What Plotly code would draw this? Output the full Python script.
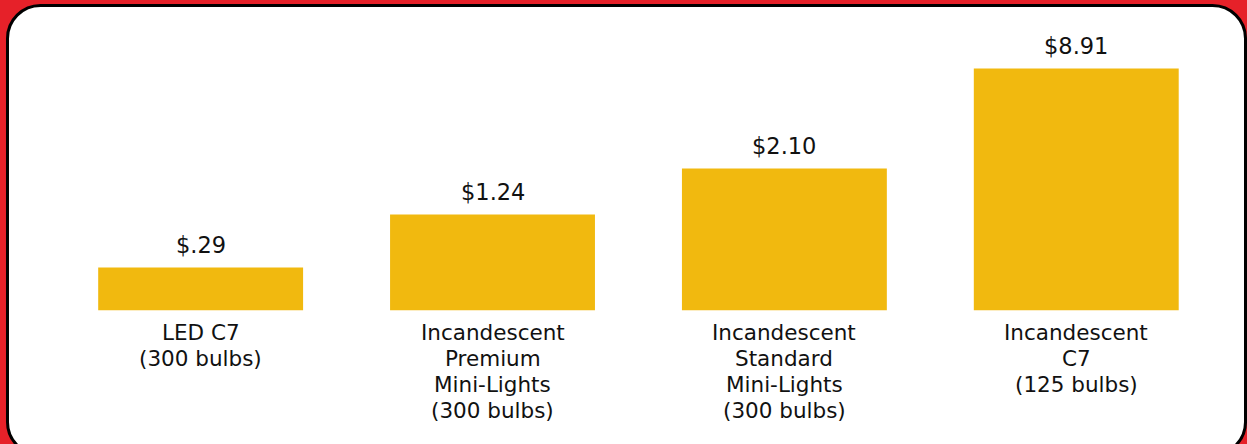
import plotly.graph_objects as go

# ---- data ----
categories = [
    "LED C7<br>(300 bulbs)",
    "Incandescent<br>Premium<br>Mini-Lights<br>(300 bulbs)",
    "Incandescent<br>Standard<br>Mini-Lights<br>(300 bulbs)",
    "Incandescent<br>C7<br>(125 bulbs)",
]
cost_values = [0.29, 1.24, 2.10, 8.91]
cost_labels = ["$.29", "$1.24", "$2.10", "$8.91"]
# bar heights as drawn in the picture (the graphic is not to scale)
bar_heights = [43, 96, 142, 242]

W, H = 1247, 444
FONT = "DejaVu Sans, Liberation Sans, Arial, sans-serif"
BAR = "#F1B90F"
RED = "#E62129"
INK = "#111111"

fig = go.Figure()
fig.add_trace(go.Bar(
    x=categories, y=bar_heights,
    marker=dict(color=BAR, line=dict(width=0)),
    customdata=cost_values,
    hovertemplate="%{customdata:$.2f}<extra></extra>",
))

# value labels above the bars
for c, h, lab in zip(categories, bar_heights, cost_labels):
    fig.add_annotation(x=c, y=h, text=lab, showarrow=False,
                       yanchor="middle", yshift=23,
                       font=dict(family=FONT, size=22.5, color=INK))

# category labels below the bars, one annotation per line (26 px leading)
for c in categories:
    for i, line in enumerate(c.split("<br>")):
        fig.add_annotation(x=c, y=0, text=line, showarrow=False,
                           yanchor="middle", yshift=-22 - 26 * i,
                           font=dict(family=FONT, size=21.5, color=INK))

# rounded white panel (decoration)
def P(x, y):
    return f"{x / W:.5f},{1 - y / H:.5f}"

x0, y0, x1, y1, r = 7.5, 5.5, 1245.5, 455, 33
k = 0.5523 * r
path = (
    f"M {P(x0 + r, y0)} L {P(x1 - r, y0)} "
    f"C {P(x1 - r + k, y0)} {P(x1, y0 + r - k)} {P(x1, y0 + r)} "
    f"L {P(x1, y1 - r)} "
    f"C {P(x1, y1 - r + k)} {P(x1 - r + k, y1)} {P(x1 - r, y1)} "
    f"L {P(x0 + r, y1)} "
    f"C {P(x0 + r - k, y1)} {P(x0, y1 - r + k)} {P(x0, y1 - r)} "
    f"L {P(x0, y0 + r)} "
    f"C {P(x0, y0 + r - k)} {P(x0 + r - k, y0)} {P(x0 + r, y0)} Z"
)
fig.add_shape(type="path", path=path, xref="paper", yref="paper",
              fillcolor="white", line=dict(color="black", width=3), layer="below")

fig.update_layout(
    width=W, height=H,
    margin=dict(l=0, r=0, t=0, b=0),
    paper_bgcolor=RED, plot_bgcolor="rgba(0,0,0,0)",
    bargap=0.298, showlegend=False,
    font=dict(family=FONT, color=INK),
)
fig.update_xaxes(domain=[54.7 / W, 1222.2 / W], showgrid=False, zeroline=False,
                 showline=False, ticks="", showticklabels=False)
fig.update_yaxes(domain=[1 - 310.5 / H, 1 - 10.5 / H], range=[0, 300],
                 visible=False, showgrid=False, zeroline=False)

fig.write_html(
    "out.html",
    config={"displayModeBar": False},
    post_script="document.body.style.margin='0';document.body.style.overflow='hidden';",
)
